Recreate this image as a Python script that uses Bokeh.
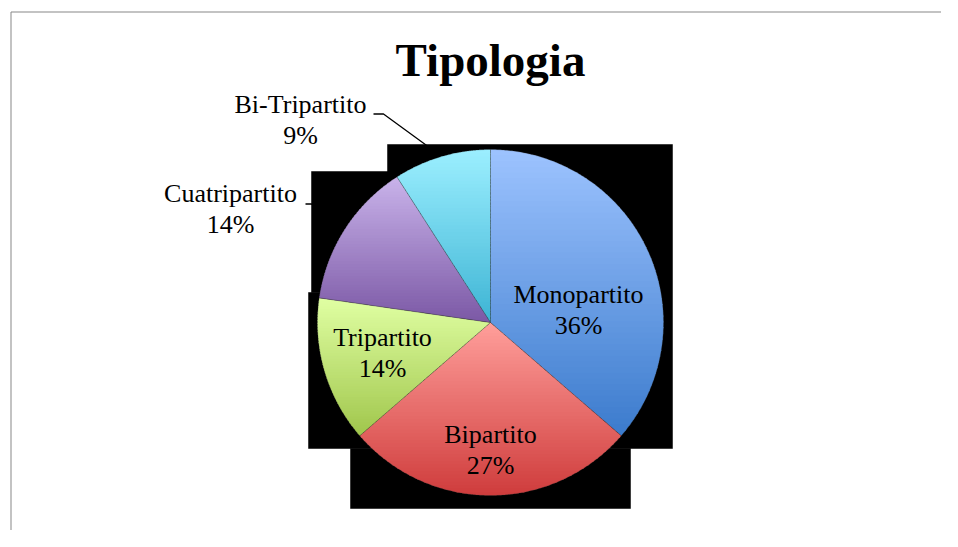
import numpy as np
from bokeh.plotting import figure
from bokeh.models import Range1d
from bokeh.embed import file_html
from bokeh.resources import INLINE
from bokeh.core.properties import value

# ---------------- data ----------------
categories = ["Monopartito", "Bipartito", "Tripartito", "Cuatripartito", "Bi-Tripartito"]
counts = [8, 6, 3, 3, 2]
title_text = "Tipologia"

# ---------------- styles ----------------
top_colors = ["#9DC3FF", "#FF9F9B", "#E0FFA3", "#C9B3EA", "#9CEFFF"]
bottom_colors = ["#3B7BCC", "#CF3C3C", "#A0C64C", "#7B58A5", "#3DB4D4"]
FONT = "Liberation Serif"
LABEL_SIZE = 26
TITLE_SIZE = 47
BASE_FIX = 0.34  # baseline correction (fraction of font size)

# ---------------- layout ----------------
W, H = 942, 531
CX, CY, R = 490.0, 322.0, 173.0
# label anchors (x center, baseline of first line)
label_x = [578, 490, 382, 230, 300]
label_y = [303, 443, 346, 202, 113]
LINE_GAP = 31
TITLE_BASE = 75
# leader lines: label-side points (the last point is the pie edge at mid angle)
leaders = {4: [(373, 113.5), (383, 113.5)], 3: [(305, 203.5), (311, 203.5)]}
# shadow blocks behind the pie (offsets from center)
shadow_l = [-103, -179, -182, -140]
shadow_r = [182, -100, 0, 140]
shadow_t = [-178, -151, -30, 126]
shadow_b = [126, -30, 126, 186]

p = figure(width=W, height=H, x_range=Range1d(0, W), y_range=Range1d(H, 0),
           output_backend="svg", toolbar_location=None, min_border=0)
p.axis.visible = False
p.grid.visible = False
p.outline_line_color = None
p.background_fill_color = "white"
p.border_fill_color = "white"

# frame border (top and left edges visible)
p.line([10.5, W - 1.5], [11.5, 11.5], line_color="#878787", line_width=1)
p.line([10.5, 10.5], [11.5, H - 1.5], line_color="#878787", line_width=1)

total = float(sum(counts))
fracs = [c / total for c in counts]
starts, ends = [], []
a = np.pi / 2
for f in fracs:
    starts.append(a)
    a = a - f * 2 * np.pi
    ends.append(a)
mids = [(s + e) / 2 for s, e in zip(starts, ends)]


def pt(theta, r=R):
    return (CX + r * np.cos(theta), CY - r * np.sin(theta))


# leader lines
for i, pts in leaders.items():
    ex, ey = pt(mids[i])
    xs = [q[0] for q in pts] + [ex]
    ys = [q[1] for q in pts] + [ey]
    p.line(xs, ys, line_color="black", line_width=1.3)

# shadow blocks
p.quad(left=[CX + v for v in shadow_l], right=[CX + v for v in shadow_r],
       top=[CY + v for v in shadow_t], bottom=[CY + v for v in shadow_b],
       fill_color="black", line_color="black", line_width=0.5)


def clip_half(pts, keep, yv):
    out = []
    n = len(pts)
    for k in range(n):
        a_ = pts[k]
        b_ = pts[(k + 1) % n]
        ia, ib = keep(a_[1]), keep(b_[1])
        if ia:
            out.append(a_)
        if ia != ib:
            t = (yv - a_[1]) / (b_[1] - a_[1])
            out.append((a_[0] + t * (b_[0] - a_[0]), yv))
    return out


def hex2rgb(h):
    h = h.lstrip("#")
    return np.array([int(h[k:k + 2], 16) for k in (0, 2, 4)], dtype=float)


def rgb2hex(c):
    c = np.clip(np.round(c), 0, 255).astype(int)
    return "#%02x%02x%02x" % tuple(c)


NB = 50
band_xs, band_ys, band_cols = [], [], []
out_xs, out_ys = [], []
for i in range(len(counts)):
    th = np.linspace(starts[i], ends[i], 240)
    poly = [(CX, CY)] + [pt(t) for t in th]
    out_xs.append([q[0] for q in poly])
    out_ys.append([q[1] for q in poly])
    ymin = min(q[1] for q in poly)
    ymax = max(q[1] for q in poly)
    c0, c1 = hex2rgb(top_colors[i]), hex2rgb(bottom_colors[i])
    edges = np.linspace(ymin, ymax, NB + 1)
    for k in range(NB):
        y0 = edges[k]
        y1 = edges[k + 1] + (1.2 if k < NB - 1 else 0.0)
        q = clip_half(poly, lambda y: y >= y0 - 1e-9, y0)
        if q:
            q = clip_half(q, lambda y: y <= y1 + 1e-9, y1)
        if len(q) < 3:
            continue
        t = (k + 0.5) / NB
        band_xs.append([v[0] for v in q])
        band_ys.append([v[1] for v in q])
        band_cols.append(rgb2hex(c0 + (c1 - c0) * t))

p.patches(band_xs, band_ys, fill_color=band_cols, line_color=None)
p.patches(out_xs, out_ys, fill_color=None, line_color="#404040", line_alpha=0.3, line_width=0.8)

# labels
pct = ["%d%%" % round(100 * f) for f in fracs]
lfix = BASE_FIX * LABEL_SIZE
p.text(x=label_x, y=[v - lfix for v in label_y], text=categories, text_font=value(FONT),
       text_font_size="%dpx" % LABEL_SIZE,
       text_align="center", text_baseline="alphabetic", text_color="black")
p.text(x=label_x, y=[v + LINE_GAP - lfix for v in label_y], text=pct, text_font=value(FONT),
       text_font_size="%dpx" % LABEL_SIZE, text_align="center", text_baseline="alphabetic",
       text_color="black")

# title
p.text(x=[CX], y=[TITLE_BASE - BASE_FIX * TITLE_SIZE], text=[title_text], text_font=value(FONT),
       text_font_size="%dpx" % TITLE_SIZE,
       text_font_style="bold", text_align="center", text_baseline="alphabetic", text_color="black")

open("out.html", "w").write(file_html(p, INLINE))
